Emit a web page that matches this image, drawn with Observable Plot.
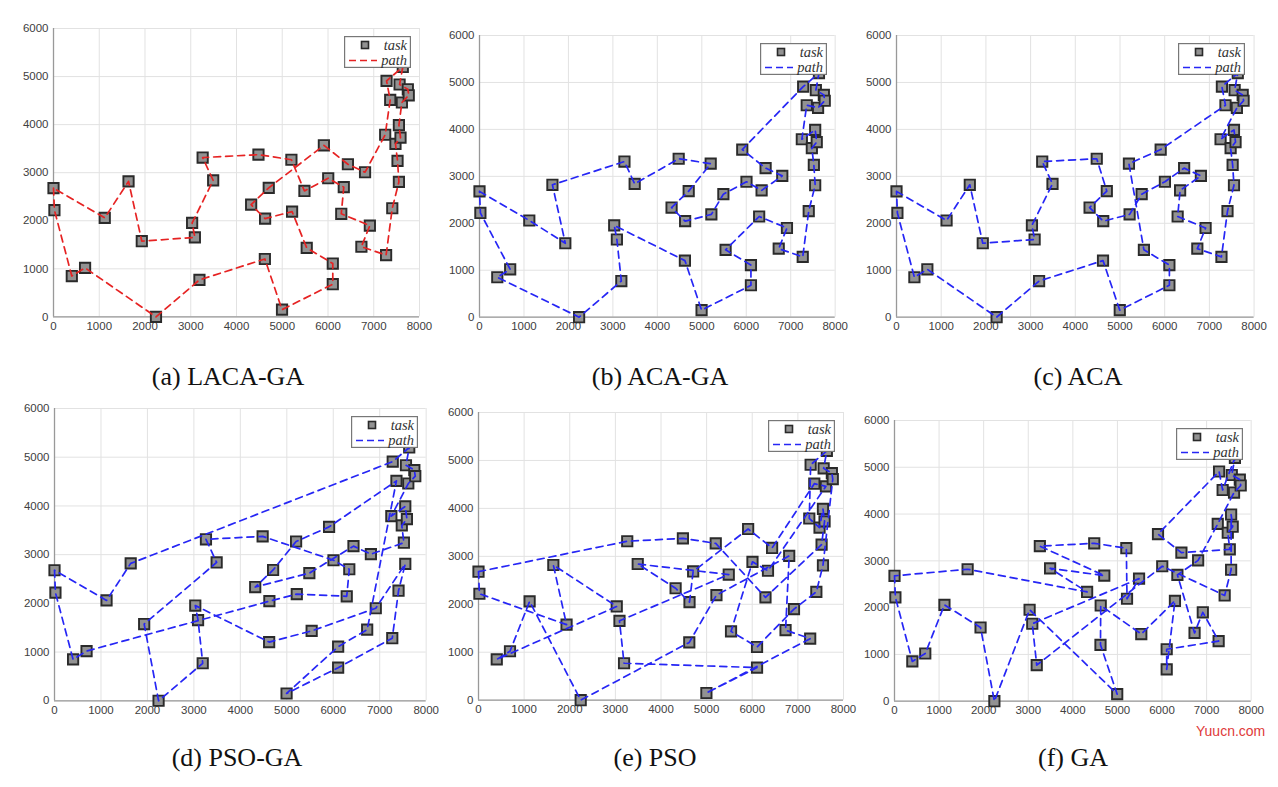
<!DOCTYPE html>
<html><head><meta charset="utf-8">
<script src="https://cdn.jsdelivr.net/npm/d3@7"></script>
<script src="https://cdn.jsdelivr.net/npm/@observablehq/plot@0.6"></script>
<style>
body{margin:0;background:#fff;}
#root{position:relative;width:1278px;height:787px;overflow:hidden;background:#fff;}
.panel{position:absolute;}
.cap{position:absolute;font-family:"Liberation Serif","Times New Roman",serif;font-size:26px;color:#111;white-space:nowrap;transform:translate(-50%,-50%);}
.legend{position:absolute;}
.legend text{font-family:"Liberation Serif","DejaVu Serif",serif;font-style:italic;font-size:14.5px;fill:#333;}
.wm{position:absolute;font-family:"Liberation Sans",Arial,sans-serif;font-size:14px;color:#e03a3a;}
</style></head>
<body><div id="root"></div>
<script>
// ---- data: task positions (same in all panels) ----
const taskX = [0,20,400,690,1120,1640,1930,2240,3030,3090,3190,3260,3490,4320,4480,4620,4625,4705,4995,5200,5215,5485,5535,5910,6005,6105,6105,6290,6345,6435,6730,6810,6915,7270,7250,7280,7360,7405,7475,7520,7550,7550,7585,7565,7615,7635,7745,7765];
const taskY = [2680,2220,850,1020,2060,2820,1575,0,1955,1655,770,3315,2840,2335,3375,1205,2045,2685,150,3270,2190,2620,1435,3570,2885,1110,680,2145,2700,3175,1460,3010,1900,1285,3790,4910,4515,2260,3600,3245,2810,3990,3730,4835,4460,5200,4735,4610];
// ---- visiting order (indices into task arrays), one per algorithm ----
const routeLACAGA = [0,1,2,3,7,10,15,18,26,25,22,20,16,13,17,23,29,31,34,36,35,45,43,46,47,44,41,42,38,39,40,37,33,30,32,27,28,24,21,19,14,11,12,8,9,6,5,4];
const routeACAGA  = [0,4,6,5,11,12,14,19,17,13,16,20,21,24,28,31,29,23,35,45,43,46,47,44,36,34,41,42,38,39,40,37,33,30,32,27,22,25,26,18,15,8,9,10,7,2,3,1];
const routeACA    = [0,4,5,6,9,8,12,11,14,17,13,16,20,21,24,29,31,28,27,32,30,33,37,40,39,38,42,41,34,44,47,46,43,45,35,36,23,19,22,25,26,18,15,10,7,3,2,1];
const routePSOGA  = [0,1,2,3,16,20,27,28,24,14,11,12,6,7,10,9,8,15,22,32,40,37,33,26,18,25,30,36,23,19,17,13,21,29,31,39,38,42,41,34,44,47,46,43,45,35,5,4];
const routePSO    = [0,11,14,19,27,39,42,41,38,34,35,45,43,46,47,40,37,32,25,22,24,28,44,36,29,23,17,16,13,12,21,9,10,26,18,33,30,31,20,15,7,4,3,2,8,5,6,1];
const routeGA     = [0,1,2,3,4,6,7,8,18,15,16,22,27,26,25,33,32,30,28,31,34,44,47,46,43,45,36,35,23,29,39,38,42,41,40,37,24,10,9,21,20,19,14,11,17,12,13,5];
const xTicks = [0,1000,2000,3000,4000,5000,6000,7000,8000];
const yTicks = [0,1000,2000,3000,4000,5000,6000];
const captions = ["(a) LACA-GA","(b) ACA-GA","(c) ACA","(d) PSO-GA","(e) PSO","(f) GA"];
const legendLabels = ["task","path"];

// ---- layout (page coordinates of each plot frame) ----
const frames = [
  {x0:53.3, x1:419.3, yT:28.3, yB:316.7, cx:228, cy:377},
  {x0:479.3, x1:835, yT:35, yB:316.7, cx:660, cy:377},
  {x0:895.7, x1:1253.3, yT:35, yB:316.7, cx:1078, cy:377},
  {x0:54.3, x1:426, yT:407.7, yB:700, cx:237, cy:758},
  {x0:478.3, x1:843.3, yT:412.3, yB:700, cx:655, cy:758},
  {x0:894.3, x1:1251, yT:420, yB:700.7, cx:1073, cy:758}
];
const routes = [routeLACAGA, routeACAGA, routeACA, routePSOGA, routePSO, routeGA];
const colors = ["#e62323","#2626f5","#2626f5","#2626f5","#2626f5","#2626f5"];

const tasks = taskX.map((x,i)=>({x, y:taskY[i]}));
const root = document.getElementById("root");
const ML=46, MT=10, MR=18, MB=26;

frames.forEach((f,k)=>{
  const route = routes[k].concat([routes[k][0]]);
  const pathPts = route.map(i=>tasks[i]);
  const W = (f.x1-f.x0)+ML+MR, H = (f.yB-f.yT)+MT+MB;
  const chart = Plot.plot({
    width: W, height: H,
    marginLeft: ML, marginTop: MT, marginRight: MR, marginBottom: MB,
    x: {domain:[0,8000], label:null},
    y: {domain:[0,6000], label:null},
    style: {fontFamily:"'Liberation Sans', Arial, sans-serif", fontSize:"11.5px", color:"#404040", background:"transparent", overflow:"visible"},
    marks: [
      Plot.gridX(xTicks, {stroke:"#e2e2e2", strokeOpacity:1, strokeWidth:1}),
      Plot.gridY(yTicks, {stroke:"#e2e2e2", strokeOpacity:1, strokeWidth:1}),
      Plot.ruleX([0], {stroke:"#999", strokeWidth:1.3}),
      Plot.ruleY([0], {stroke:"#999", strokeWidth:1.3}),
      Plot.axisX(xTicks, {tickSize:0, tickPadding:5, tickFormat:d=>String(d), label:null}),
      Plot.axisY(yTicks, {tickSize:0, tickPadding:5, tickFormat:d=>String(d), label:null}),
      Plot.dot(tasks, {x:"x", y:"y", symbol:"square", r:5.8, fill:"#929292", stroke:"#2a2a2a", strokeWidth:1.9}),
      Plot.line(pathPts, {x:"x", y:"y", stroke:colors[k], strokeWidth:1.7, strokeDasharray:"7,5", curve:"linear"})
    ]
  });
  chart.classList.add("panel");
  chart.style.left = (f.x0-ML)+"px";
  chart.style.top = (f.yT-MT)+"px";
  root.appendChild(chart);

  // legend box
  const lw=67, lh=32;
  const lg = document.createElement("div");
  lg.className="legend";
  lg.style.left=(f.x1-8-lw)+"px";
  lg.style.top=(f.yT+8)+"px";
  lg.innerHTML = `<svg width="${lw}" height="${lh}">
    <rect x="0.6" y="0.6" width="${lw-1.2}" height="${lh-1.2}" fill="#fff" stroke="#777" stroke-width="1.2"/>
    <rect x="17.5" y="5.5" width="7" height="7" fill="#929292" stroke="#2a2a2a" stroke-width="1.6"/>
    <text x="${lw-4}" y="14" text-anchor="end">${legendLabels[0]}</text>
    <line x1="5" x2="33" y1="24.5" y2="24.5" stroke="${colors[k]}" stroke-width="1.7" stroke-dasharray="7,4"/>
    <text x="${lw-4}" y="28.5" text-anchor="end">${legendLabels[1]}</text>
  </svg>`;
  root.appendChild(lg);

  const cap = document.createElement("div");
  cap.className="cap";
  cap.style.left=f.cx+"px";
  cap.style.top=f.cy+"px";
  cap.textContent=captions[k];
  root.appendChild(cap);
});

const wm = document.createElement("div");
wm.className="wm"; wm.style.left="1196px"; wm.style.top="723px"; wm.textContent="Yuucn.com";
root.appendChild(wm);
</script>
</body></html>
